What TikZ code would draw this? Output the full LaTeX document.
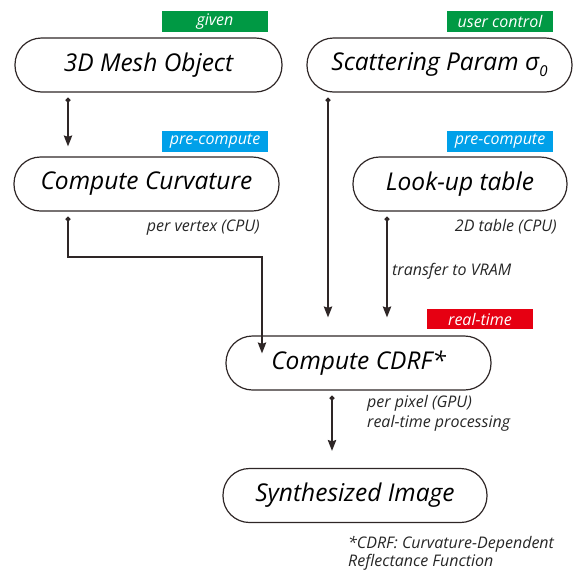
\documentclass[tikz,border=0pt]{standalone}
\usepackage{fontspec}
\setmainfont{Open Sans}
\usetikzlibrary{arrows.meta,calc}
\definecolor{linecol}{HTML}{2E2626}
\definecolor{tagGreen}{HTML}{009944}
\definecolor{tagBlue}{HTML}{00A0E9}
\definecolor{tagRed}{HTML}{E60012}
\tikzset{
  stage/.style={draw=linecol, line width=1.2pt, rounded corners=26.5pt,
    minimum height=54pt, inner sep=0pt, font=\itshape\fontsize{24.5}{24.5}\selectfont, text=black},
  tag/.style={fill=#1, minimum width=106pt, minimum height=21pt, inner sep=0pt,
    text=white, font=\itshape\fontsize{16}{16}\selectfont},
  note/.style={font=\itshape\fontsize{16}{16}\selectfont, text=black!85, inner sep=0pt},
  flow/.style={draw=linecol, line width=1.3pt,
    {Circle[length=5pt]}-{Stealth[length=11pt,width=8.5pt,inset=1.5pt]}},
}
\begin{document}
\begin{tikzpicture}[x=1pt,y=-1pt]
  \useasboundingbox (0,0) rectangle (579,571);

  % processing stages
  \node[stage, minimum width=267pt] (mesh)  at (148.5,65)  {3D Mesh Object};
  \node[stage, minimum width=265pt] (scat)  at (439.5,65)  {Scattering Param σ\raisebox{-6pt}{\fontsize{15}{15}\selectfont 0}};
  \node[stage, minimum width=265pt] (curv)  at (146.5,184) {Compute Curvature};
  \node[stage, minimum width=214pt] (lut)   at (460,184)   {Look-up table};
  \node[stage, minimum width=265pt] (cdrf)  at (358.5,363) {Compute CDRF*};
  \node[stage, minimum width=264pt] (synth) at (355,495.5) {Synthesized Image};

  % coloured tags
  \node[tag=tagGreen] (tgiven) at (215,21.5)  {given};
  \node[tag=tagGreen] (tuser)  at (500,21.5)  {user control};
  \node[tag=tagBlue]  (tpre1)  at (215,141.5) {pre-compute};
  \node[tag=tagBlue]  (tpre2)  at (500,141.5) {pre-compute};
  \node[tag=tagRed, minimum height=20pt] (treal) at (480,319) {real-time};

  % annotations
  \node[note, anchor=base east] (nvert) at (260,231) {per vertex (CPU)};
  \node[note, anchor=base east] (ntab)  at (557,231) {2D table (CPU)};
  \node[note, anchor=base west] (nvram) at (392,275) {transfer to VRAM};
  \node[note, anchor=base west] (npix)  at (367,407) {per pixel (GPU)};
  \node[note, anchor=base west] (nrt)   at (367,427) {real-time processing};
  \node[note, anchor=base west] (nf1)   at (348,548) {*CDRF: Curvature-Dependent};
  \node[note, anchor=base west] (nf2)   at (348,566) {Reflectance Function};

  % data flow
  \coordinate (bend1) at (68,257);
  \coordinate (bend2) at (262,257);
  \draw[flow, shorten <=5pt, shorten >=10pt] (mesh.south -| 68,0) -- (curv.north -| 68,0);
  \draw[flow, shorten <=5pt] (curv.south -| bend1) -- (bend1) -- (bend2)
     -- ([yshift=-18pt]cdrf.north -| bend2);
  \draw[flow, shorten <=5pt, shorten >=18pt] (scat.south -| 328,0) -- (cdrf.north -| 328,0);
  \draw[flow, shorten <=5pt, shorten >=18pt] (lut.south -| 387,0) -- (cdrf.north -| 387,0);
  \draw[flow, shorten <=5pt, shorten >=17pt] (cdrf.south -| 332,0) -- (synth.north -| 332,0);
\end{tikzpicture}
\end{document}
